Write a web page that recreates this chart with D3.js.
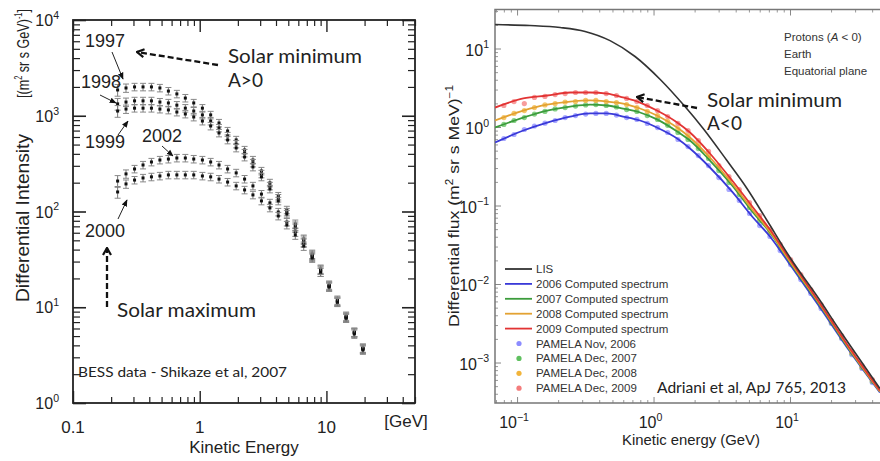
<!DOCTYPE html>
<html>
<head>
<meta charset="utf-8">
<script src="https://cdn.jsdelivr.net/npm/d3@7"></script>
<style>
  body { margin: 0; background: #fff; }
  svg { display: block; }
</style>
</head>
<body>
<script>
// ---------- left panel: BESS proton spectra (per GeV)
const bessEnergy = [0.225, 0.262, 0.306, 0.357, 0.416, 0.485, 0.566, 0.66, 0.77, 0.897, 1.05, 1.22, 1.42, 1.66, 1.94,
  2.26, 2.63, 3.07, 3.58, 4.17, 4.87, 5.68, 6.62, 7.72, 9.0, 10.5, 12.2, 14.3, 16.6, 19.4]
const bess1997 = [1860, 1950, 2000, 2000, 2000, 1950, 1810, 1690, 1530, 1360, 1200, 1020, 840, 693, 559,
  439, 345, 265, 199, 145, 104, 74, 51.6, 35.9, 25.1, 17.1, 11.9, 8.1, 5.5, 3.75]
const bess1998 = [1330, 1390, 1430, 1430, 1430, 1390, 1360, 1290, 1200, 1120, 1020, 881, 745, 615, 507,
  408, 321, 247, 185, 138, 98.8, 70.6, 50.4, 35.1, 24.5, 16.7, 11.6, 7.9, 5.5, 3.75]
const bess1999 = [1120, 1175, 1200, 1200, 1200, 1175, 1150, 1094, 1043, 971, 881, 782, 661, 559, 461,
  371, 292, 230, 172, 129, 94.2, 67.3, 48.0, 33.5, 23.3, 16.3, 11.3, 7.7, 5.4, 3.66]
const bess2002 = [208, 247, 278, 306, 329, 345, 353, 362, 362, 353, 345, 329, 306, 278, 253,
  218, 185, 152, 123, 98.8, 77.6, 61.1, 46.9, 34.3, 24.5, 16.7, 11.6, 7.9, 5.4, 3.66]
const bess2000 = [160, 194, 213, 224, 230, 235, 241, 241, 241, 241, 235, 230, 218, 203, 185,
  168, 149, 129, 109, 89.8, 72.3, 56.9, 43.6, 32.7, 23.3, 16.3, 11.3, 7.7, 5.26, 3.58]
const bessRelErr = [0.14, 0.1, 0.09, 0.09, 0.09, 0.09, 0.09, 0.09, 0.09, 0.09, 0.09, 0.09, 0.09, 0.09, 0.09,
  0.09, 0.09, 0.09, 0.09, 0.09, 0.09, 0.1, 0.1, 0.1, 0.1, 0.1, 0.1, 0.1, 0.1, 0.1]
const bessSeries = [bess1997, bess1998, bess1999, bess2002, bess2000]

// ---------- right panel: PAMELA + computed spectra (per MeV)
const lisEnergy = [0.069, 0.124, 0.207, 0.315, 0.48, 0.732, 1.12, 1.70, 2.31, 3.45, 4.84, 6.79, 10.0, 16.6, 23.2, 31.0, 45.6]
const lisFlux = [20.2, 19.6, 18.5, 16.5, 12.6, 7.91, 4.03, 1.82, 0.957, 0.374, 0.165, 0.0644, 0.0218, 0.00616, 0.00256, 0.00123, 4.67e-4]

const specEnergy = [0.069, 0.111, 0.166, 0.245, 0.343, 0.456, 0.598, 0.796, 1.06, 1.49, 1.85, 2.59, 3.82, 5.36, 7.13, 10.0, 16.6, 27.5, 45.6]
const spec2006 = [0.635, 0.902, 1.14, 1.36, 1.49, 1.49, 1.36, 1.21, 0.985, 0.714, 0.532, 0.305, 0.146, 0.0703, 0.0403, 0.0177, 0.00502, 0.00138, 4.15e-4]
const spec2007 = [0.985, 1.32, 1.62, 1.82, 1.93, 1.88, 1.72, 1.53, 1.25, 0.876, 0.673, 0.374, 0.175, 0.0814, 0.0453, 0.0188, 0.00532, 0.00142, 4.27e-4]
const spec2008 = [1.21, 1.62, 1.93, 2.11, 2.18, 2.11, 1.99, 1.72, 1.40, 0.985, 0.735, 0.409, 0.185, 0.0864, 0.0466, 0.0193, 0.00548, 0.00146, 4.27e-4]
const spec2009 = [1.77, 2.31, 2.52, 2.75, 2.75, 2.67, 2.38, 2.05, 1.62, 1.14, 0.851, 0.460, 0.202, 0.0943, 0.0494, 0.0205, 0.00564, 0.00151, 4.40e-4]

const pamelaEnergy = [0.080, 0.095, 0.113, 0.134, 0.160, 0.190, 0.225, 0.268, 0.318, 0.378, 0.450, 0.535, 0.635, 0.755, 0.90,
  1.07, 1.27, 1.51, 1.79, 2.13, 2.53, 3.01, 3.57, 4.25, 5.05, 6.00, 7.13, 8.47, 10.1, 12.0, 14.2, 16.9, 20.1, 23.9, 28.4, 33.7, 40.1]
const pamela2006 = [0.714, 0.803, 0.929, 1.03, 1.12, 1.21, 1.32, 1.40, 1.46, 1.49, 1.49, 1.42, 1.32, 1.25, 1.11,
  0.985, 0.851, 0.693, 0.564, 0.433, 0.323, 0.227, 0.160, 0.116, 0.0791, 0.0556, 0.0403, 0.0267, 0.0177, 0.0114, 0.00757, 0.00488, 0.00314, 0.00202, 0.00126, 0.000839, 0.000556]
const pamela2007 = [1.08, 1.21, 1.32, 1.46, 1.58, 1.70, 1.77, 1.85, 1.91, 1.93, 1.88, 1.80, 1.67, 1.58, 1.40,
  1.25, 1.05, 0.851, 0.693, 0.532, 0.397, 0.279, 0.196, 0.138, 0.0943, 0.0644, 0.0453, 0.0292, 0.0188, 0.0121, 0.00803, 0.00517, 0.00323, 0.00208, 0.00130, 0.000864, 0.000573]
const pamela2008 = [1.32, 1.49, 1.62, 1.77, 1.91, 1.99, 2.08, 2.11, 2.18, 2.18, 2.11, 2.05, 1.93, 1.77, 1.58,
  1.40, 1.18, 0.957, 0.779, 0.581, 0.433, 0.305, 0.214, 0.146, 0.100, 0.0683, 0.0466, 0.0300, 0.0193, 0.01246, 0.00827, 0.00532, 0.00333, 0.00214, 0.00134, 0.000889, 0.000590]
const pamela2009 = [1.88, 2.11, 1.99, 2.38, 2.45, 2.59, 2.67, 2.75, 2.75, 2.75, 2.67, 2.52, 2.31, 2.11, 1.88,
  1.62, 1.36, 1.11, 0.902, 0.673, 0.488, 0.323, 0.234, 0.160, 0.109, 0.0746, 0.0494, 0.0319, 0.0205, 0.0132, 0.00851, 0.00548, 0.00343, 0.00221, 0.00138, 0.000916, 0.000607]

const lineLabels = ["LIS", "2006 Computed spectrum", "2007 Computed spectrum", "2008 Computed spectrum", "2009 Computed spectrum"]
const dotLabels = ["PAMELA Nov, 2006", "PAMELA Dec, 2007", "PAMELA Dec, 2008", "PAMELA Dec, 2009"]
const lineColors = ["#333333", "#3a3ad8", "#3c9c3c", "#e3a232", "#e23434"]
const dotColors = ["#8c8cff", "#5fc05f", "#f2b43a", "#f47c7c"]

const W = 880, H = 461
const svg = d3.select("body").append("svg").attr("width", W).attr("height", H)
  .style("font-family", "'Liberation Sans', Arial, sans-serif")

const defs = svg.append("defs")
defs.append("marker").attr("id", "tri").attr("viewBox", "0 0 10 10")
  .attr("refX", 9).attr("refY", 5).attr("markerWidth", 7).attr("markerHeight", 7)
  .attr("markerUnits", "userSpaceOnUse").attr("orient", "auto")
  .append("path").attr("d", "M0,1L10,5L0,9Z").attr("fill", "#111")
defs.append("marker").attr("id", "chev").attr("viewBox", "0 0 10 10")
  .attr("refX", 9).attr("refY", 5).attr("markerWidth", 10).attr("markerHeight", 10)
  .attr("markerUnits", "userSpaceOnUse").attr("orient", "auto")
  .append("path").attr("d", "M2,1L9,5L2,9").attr("fill", "none").attr("stroke", "#111").attr("stroke-width", 2.2)

const isMajor = v => Math.abs(Math.log10(v) - Math.round(Math.log10(v))) < 1e-9

const powLabel = (g, exp, x, y, anchor, size) => {
  const t = g.append("text").attr("x", x).attr("y", y).attr("text-anchor", anchor)
    .style("font-size", size + "px").attr("fill", "#222")
  t.append("tspan").text("10")
  t.append("tspan").attr("dy", -size * 0.45).style("font-size", (size * 0.66) + "px").text(exp)
}

// ================= LEFT PANEL =================
const L = { x0: 73, x1: 415, y0: 20, y1: 403 }
const xL = d3.scaleLog().domain([0.1, 50]).range([L.x0, L.x1])
const yL = d3.scaleLog().domain([1, 1e4]).range([L.y1, L.y0])
const gl = svg.append("g")

const drawTicks = (g, axisFn, scale, vals, size, tr, color, width) => {
  g.append("g").attr("transform", tr)
    .call(axisFn(scale).tickValues(vals).tickSize(size).tickFormat(""))
    .call(s => s.select(".domain").remove())
    .call(s => s.selectAll("line").attr("stroke", color).attr("stroke-width", width))
}

const xtL = xL.ticks(), ytL = yL.ticks()
const xMajL = xtL.filter(isMajor), xMinL = xtL.filter(v => !isMajor(v))
const yMajL = ytL.filter(isMajor), yMinL = ytL.filter(v => !isMajor(v))
drawTicks(gl, d3.axisBottom, xL, xMajL, -12, `translate(0,${L.y1})`, "#222", 1.4)
drawTicks(gl, d3.axisBottom, xL, xMinL, -6, `translate(0,${L.y1})`, "#222", 1.2)
drawTicks(gl, d3.axisTop, xL, xMajL, -12, `translate(0,${L.y0})`, "#222", 1.4)
drawTicks(gl, d3.axisTop, xL, xMinL, -6, `translate(0,${L.y0})`, "#222", 1.2)
drawTicks(gl, d3.axisLeft, yL, yMajL, -13, `translate(${L.x0},0)`, "#222", 1.6)
drawTicks(gl, d3.axisLeft, yL, yMinL, -7, `translate(${L.x0},0)`, "#222", 1.2)
drawTicks(gl, d3.axisRight, yL, yMajL, -13, `translate(${L.x1},0)`, "#222", 1.6)
drawTicks(gl, d3.axisRight, yL, yMinL, -7, `translate(${L.x1},0)`, "#222", 1.2)

gl.append("rect").attr("x", L.x0).attr("y", L.y0).attr("width", L.x1 - L.x0).attr("height", L.y1 - L.y0)
  .attr("fill", "none").attr("stroke", "#222").attr("stroke-width", 1.8)

// tick labels
;["0.1", "1", "10"].forEach(s => {
  gl.append("text").attr("x", xL(+s)).attr("y", 433).attr("text-anchor", "middle")
    .style("font-size", "17px").attr("fill", "#222").text(s)
})
yMajL.forEach(v => powLabel(gl, String(Math.round(Math.log10(v))), 59, yL(v) + 6, "end", 16))
gl.append("text").attr("x", 406).attr("y", 427).attr("text-anchor", "middle")
  .style("font-size", "17px").attr("fill", "#222").text("[GeV]")
gl.append("text").attr("x", 244).attr("y", 453).attr("text-anchor", "middle")
  .style("font-size", "17px").attr("fill", "#222").text("Kinetic Energy")

gl.append("text").attr("transform", "translate(29,302) rotate(-90)")
  .attr("text-anchor", "start").style("font-size", "18px").attr("fill", "#222")
  .attr("textLength", 168).attr("lengthAdjust", "spacingAndGlyphs")
  .text("Differential Intensity")
const ybr = gl.append("text").attr("transform", "translate(29,98) rotate(-90)")
  .attr("text-anchor", "start").style("font-size", "17px").attr("fill", "#222")
  .attr("textLength", 89).attr("lengthAdjust", "spacingAndGlyphs")
ybr.append("tspan").text("[(m")
ybr.append("tspan").attr("dy", -7).style("font-size", "10px").text("2")
ybr.append("tspan").attr("dy", 7).text(" sr s GeV)")
ybr.append("tspan").attr("dy", -7).style("font-size", "10px").text("-1")
ybr.append("tspan").attr("dy", 7).text("]")

// data points with error bars
bessSeries.forEach(series => {
  const pts = series.map((v, i) => ({ e: bessEnergy[i], v, err: bessRelErr[i] }))
  const g = gl.append("g")
  g.selectAll("line.eb").data(pts).join("line").attr("class", "eb")
    .attr("x1", d => xL(d.e)).attr("x2", d => xL(d.e))
    .attr("y1", d => yL(d.v * (1 - d.err))).attr("y2", d => yL(d.v * (1 + d.err)))
    .attr("stroke", "#777").attr("stroke-width", 1)
  ;[-1, 1].forEach(sgn => {
    g.selectAll(null).data(pts).join("line")
      .attr("x1", d => xL(d.e) - 3).attr("x2", d => xL(d.e) + 3)
      .attr("y1", d => yL(d.v * (1 + sgn * d.err))).attr("y2", d => yL(d.v * (1 + sgn * d.err)))
      .attr("stroke", "#888").attr("stroke-width", 1)
  })
  g.selectAll("rect").data(pts).join("rect")
    .attr("x", d => xL(d.e) - 1.5).attr("y", d => yL(d.v) - 1.5)
    .attr("width", 3).attr("height", 3).attr("fill", "#111")
})

// year labels and arrows
const yearNotes = [
  { t: "1997", x: 85, y: 47, a: [112, 52, 123, 79] },
  { t: "1998", x: 81, y: 88, a: [100, 95, 116, 103] },
  { t: "1999", x: 85, y: 148, a: [118, 135, 128, 121] },
  { t: "2002", x: 142, y: 142, a: [162, 146, 173, 156] },
  { t: "2000", x: 85, y: 237, a: [118, 219, 127, 200] }
]
yearNotes.forEach(n => {
  gl.append("text").attr("x", n.x).attr("y", n.y).style("font-size", "18px").attr("fill", "#222").text(n.t)
  gl.append("line").attr("x1", n.a[0]).attr("y1", n.a[1]).attr("x2", n.a[2]).attr("y2", n.a[3])
    .attr("stroke", "#222").attr("stroke-width", 1).attr("marker-end", "url(#tri)")
})

const calibri = "Lato, 'Open Sans', sans-serif"
gl.append("line").attr("x1", 218).attr("y1", 65).attr("x2", 137).attr("y2", 52)
  .attr("stroke", "#111").attr("stroke-width", 2.3).attr("stroke-dasharray", "6,3").attr("marker-end", "url(#chev)")
gl.append("text").attr("x", 228).attr("y", 63).style("font-family", calibri).style("font-size", "19px")
  .attr("textLength", 134).attr("lengthAdjust", "spacingAndGlyphs").attr("fill", "#222").text("Solar minimum")
gl.append("text").attr("x", 228).attr("y", 87).style("font-family", calibri).style("font-size", "19px")
  .attr("fill", "#222").text("A>0")
gl.append("line").attr("x1", 107).attr("y1", 307).attr("x2", 107).attr("y2", 248)
  .attr("stroke", "#111").attr("stroke-width", 2.3).attr("stroke-dasharray", "6,3").attr("marker-end", "url(#chev)")
gl.append("text").attr("x", 117).attr("y", 317).style("font-family", calibri).style("font-size", "19px")
  .attr("textLength", 139).attr("lengthAdjust", "spacingAndGlyphs").attr("fill", "#222").text("Solar maximum")
gl.append("text").attr("x", 78).attr("y", 377).style("font-family", calibri).style("font-size", "14px")
  .attr("textLength", 209).attr("lengthAdjust", "spacingAndGlyphs").attr("fill", "#222").text("BESS data - Shikaze et al, 2007")

// ================= RIGHT PANEL =================
const R = { x0: 495, x1: 900, y0: 9.5, y1: 403 }
const xR = d3.scaleLog().domain([0.0689, 64]).range([R.x0, R.x1])
const yR = d3.scaleLog().domain([3.05e-4, 31.4]).range([R.y1, R.y0])
const gr = svg.append("g")

defs.append("clipPath").attr("id", "clipR").append("rect")
  .attr("x", R.x0).attr("y", R.y0).attr("width", R.x1 - R.x0).attr("height", R.y1 - R.y0)

const xtR = xR.ticks(), ytR = yR.ticks()
const xMajR = xtR.filter(isMajor), xMinR = xtR.filter(v => !isMajor(v))
const yMajR = ytR.filter(isMajor), yMinR = ytR.filter(v => !isMajor(v))
drawTicks(gr, d3.axisBottom, xR, xMajR, -6, `translate(0,${R.y1})`, "#888", 1)
drawTicks(gr, d3.axisBottom, xR, xMinR, -3, `translate(0,${R.y1})`, "#999", 1)
drawTicks(gr, d3.axisTop, xR, xMajR, -6, `translate(0,${R.y0})`, "#888", 1)
drawTicks(gr, d3.axisTop, xR, xMinR, -3, `translate(0,${R.y0})`, "#999", 1)
drawTicks(gr, d3.axisLeft, yR, yMajR, -6, `translate(${R.x0},0)`, "#888", 1)
drawTicks(gr, d3.axisLeft, yR, yMinR, -3, `translate(${R.x0},0)`, "#999", 1)

gr.append("path").attr("d", `M${R.x1},${R.y0}H${R.x0}V${R.y1}H${R.x1}`)
  .attr("fill", "none").attr("stroke", "#777").attr("stroke-width", 1.5)

yMajR.forEach(v => {
  const p = Math.round(Math.log10(v))
  powLabel(gr, p < 0 ? "\u2212" + (-p) : String(p), 489, yR(v) + 7, "end", 16)
})
xMajR.forEach(v => {
  const p = Math.round(Math.log10(v))
  powLabel(gr, p < 0 ? "\u2212" + (-p) : String(p), xR(v) - 3, 428, "middle", 16)
})
gr.append("text").attr("x", 691).attr("y", 445).attr("text-anchor", "middle")
  .style("font-size", "15px").attr("textLength", 138).attr("lengthAdjust", "spacingAndGlyphs")
  .attr("fill", "#222").text("Kinetic energy (GeV)")
const ytR2 = gr.append("text").attr("transform", "translate(459,206) rotate(-90)")
  .attr("text-anchor", "middle").style("font-size", "15px").attr("fill", "#222")
  .attr("textLength", 242).attr("lengthAdjust", "spacingAndGlyphs")
ytR2.append("tspan").text("Differential flux (m")
ytR2.append("tspan").attr("dy", -6).style("font-size", "10px").text("2")
ytR2.append("tspan").attr("dy", 6).text(" sr s MeV)")
ytR2.append("tspan").attr("dy", -6).style("font-size", "10px").text("\u22121")

const plotR = gr.append("g").attr("clip-path", "url(#clipR)")
const pamelaSeries = [pamela2006, pamela2007, pamela2008, pamela2009]
pamelaSeries.forEach((series, k) => {
  plotR.append("g").selectAll("circle").data(series.map((v, i) => ({ e: pamelaEnergy[i], v })))
    .join("circle").attr("cx", d => xR(d.e)).attr("cy", d => yR(d.v)).attr("r", 2.6)
    .attr("fill", dotColors[k]).attr("fill-opacity", 0.75)
})
const lineR = d3.line().curve(d3.curveMonotoneX).x(d => xR(d.e)).y(d => yR(d.v))
;[spec2006, spec2007, spec2008, spec2009].forEach((series, k) => {
  plotR.append("path").datum(series.map((v, i) => ({ e: specEnergy[i], v })))
    .attr("d", lineR).attr("fill", "none").attr("stroke", lineColors[k + 1]).attr("stroke-width", 1.8)
})
plotR.append("path").datum(lisFlux.map((v, i) => ({ e: lisEnergy[i], v })))
  .attr("d", lineR).attr("fill", "none").attr("stroke", lineColors[0]).attr("stroke-width", 1.6)

// legend
const lg = gr.append("g").style("font-size", "11.5px")
lineLabels.forEach((t, i) => {
  const y = 269 + i * 14.9
  lg.append("line").attr("x1", 505).attr("x2", 532).attr("y1", y).attr("y2", y)
    .attr("stroke", lineColors[i]).attr("stroke-width", 1.8)
  lg.append("text").attr("x", 536).attr("y", y + 4).attr("fill", "#333").text(t)
})
dotLabels.forEach((t, i) => {
  const y = 269 + (i + 5) * 14.9
  lg.append("circle").attr("cx", 519).attr("cy", y).attr("r", 2.6).attr("fill", dotColors[i])
  lg.append("text").attr("x", 536).attr("y", y + 4).attr("fill", "#333").text(t)
})

// top-right note
const note = gr.append("g").style("font-size", "11.5px").attr("fill", "#333")
const n1 = note.append("text").attr("x", 784).attr("y", 41)
n1.append("tspan").text("Protons (")
n1.append("tspan").style("font-style", "italic").text("A")
n1.append("tspan").text(" < 0)")
note.append("text").attr("x", 784).attr("y", 58).text("Earth")
note.append("text").attr("x", 784).attr("y", 75).text("Equatorial plane")

gr.append("line").attr("x1", 697).attr("y1", 108).attr("x2", 637).attr("y2", 97)
  .attr("stroke", "#111").attr("stroke-width", 2.3).attr("stroke-dasharray", "6,3").attr("marker-end", "url(#chev)")
gr.append("text").attr("x", 707).attr("y", 107).style("font-family", calibri).style("font-size", "19px")
  .attr("textLength", 135).attr("lengthAdjust", "spacingAndGlyphs").attr("fill", "#222").text("Solar minimum")
gr.append("text").attr("x", 707).attr("y", 130).style("font-family", calibri).style("font-size", "19px")
  .attr("fill", "#222").text("A<0")
gr.append("text").attr("x", 657).attr("y", 393).style("font-family", calibri).style("font-size", "15px")
  .attr("textLength", 189).attr("lengthAdjust", "spacingAndGlyphs").attr("fill", "#222").text("Adriani et al, ApJ 765, 2013")
</script>
</body>
</html>
